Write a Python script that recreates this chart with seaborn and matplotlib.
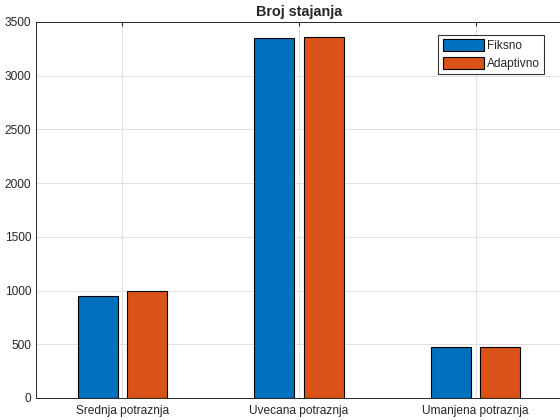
import pandas as pd
import matplotlib.pyplot as plt
import seaborn as sns

categories = ["Srednja potraznja", "Uvecana potraznja", "Umanjena potraznja"]
fiksno = [950, 3355, 474]
adaptivno = [995, 3360, 474]
series_names = ["Fiksno", "Adaptivno"]
colors = ["#0072BD", "#D95319"]

df = pd.DataFrame({
    "kategorija": categories * 2,
    "vrijednost": fiksno + adaptivno,
    "serija": [series_names[0]] * 3 + [series_names[1]] * 3,
})

sns.set_style("white")
plt.rcParams["font.family"] = ["Liberation Sans", "DejaVu Sans"]

fig = plt.figure(figsize=(5.6, 4.2), dpi=100)
ax = fig.add_axes([36 / 560, 22 / 420, 526 / 560, 376 / 420])

sns.barplot(data=df, x="kategorija", y="vrijednost", hue="serija",
            palette=colors, width=0.56, gap=0.19, edgecolor="black",
            linewidth=0.8, saturation=1, ax=ax, zorder=3)

ax.set_xlim(-0.49, 2.49)
ax.set_ylim(0, 3500)
ax.set_yticks(range(0, 3501, 500))
ax.grid(True, color="#e0e0e0", linewidth=0.7, zorder=0)
ax.set_axisbelow(True)
ax.set_xlabel("")
ax.set_ylabel("")
ax.set_title("Broj stajanja", fontsize=10.4, fontweight="bold", pad=4)
ax.tick_params(direction="in", length=3, labelsize=8.6, color="#262626",
               labelcolor="#262626", top=True, right=False)
ax.tick_params(axis="x", pad=5)
for s in ax.spines.values():
    s.set_color("#262626")
    s.set_linewidth(0.7)

leg = ax.legend(loc="upper right", bbox_to_anchor=(1 - 18 / 526, 1 - 13 / 376),
                fontsize=8.6, frameon=True, fancybox=False, borderaxespad=0,
                handlelength=3.5, handleheight=1.2, labelspacing=0.35,
                handletextpad=0.2, borderpad=0.35)
leg.get_frame().set_edgecolor("black")
leg.get_frame().set_linewidth(0.8)

fig.savefig("out.png", dpi=100)
